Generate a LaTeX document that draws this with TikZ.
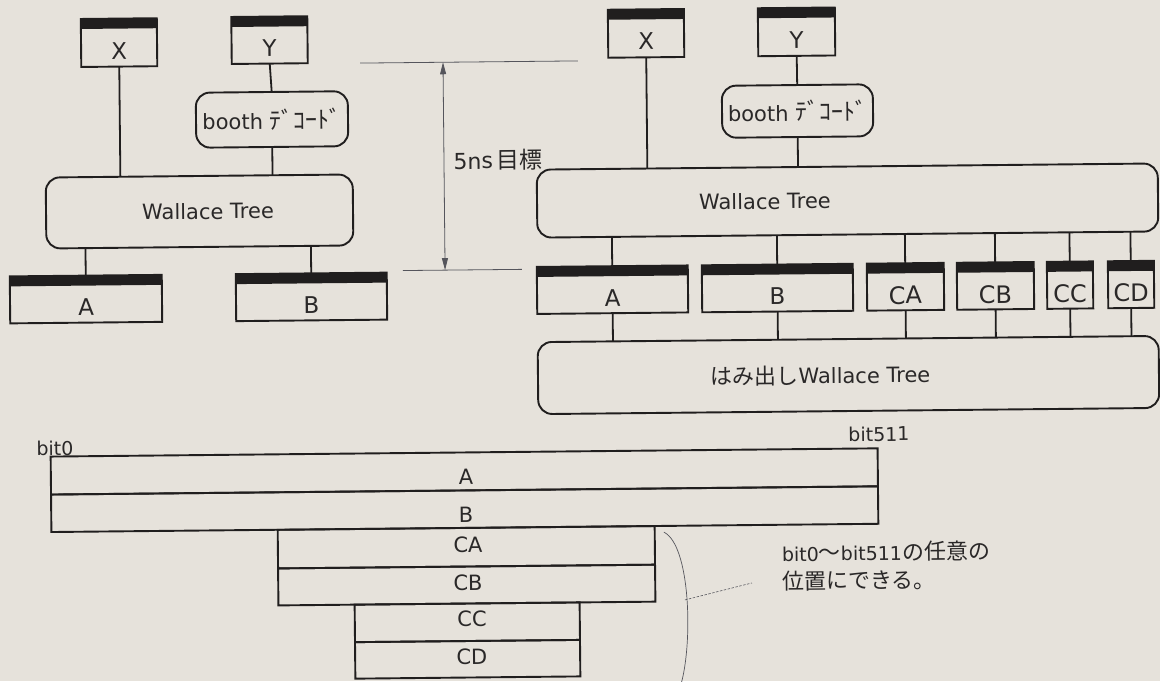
\documentclass[tikz,border=0pt]{standalone}
\usepackage{fontspec}
\setmainfont{DejaVu Sans}
\newfontfamily\jp{Noto Sans CJK JP}
\usetikzlibrary{arrows.meta,calc}
\definecolor{paper}{RGB}{230,226,219}
\definecolor{ink}{RGB}{32,30,30}
\definecolor{txt}{RGB}{42,40,40}
\definecolor{fineink}{RGB}{85,85,92}
\newcommand\jpt[2]{{\jp\fontsize{#1}{#1}\selectfont #2}}
\begin{document}
\begin{tikzpicture}[x=1pt,y=-1pt,
  box/.style={draw=ink, line width=1.9pt, inner sep=0pt, outer sep=0pt},
  reg/.style={box},
  rbox/.style={box, rounded corners=14pt},
  regtext/.style={font=\fontsize{23}{23}\selectfont, text=txt, inner sep=0pt, yshift=-8pt},
  ctext/.style={font=\fontsize{24}{24}\selectfont, text=txt, inner sep=0pt, yshift=-8.5pt},
  walltext/.style={font=\fontsize{21}{21}\selectfont, text=txt, inner sep=0pt},
  rowbox/.style={draw=ink, line width=1.9pt, inner sep=0pt, outer sep=0pt},
  rowtext/.style={font=\fontsize{21}{21}\selectfont, text=txt, inner sep=0pt},
  conn/.style={draw=ink, line width=1.8pt},
  fine/.style={draw=fineink, line width=0.8pt},
  note/.style={text=txt, inner sep=0pt}
]
\path[use as bounding box, fill=paper] (0,0) rectangle (1160,681);
\clip (0,0) rectangle (1160,681);
\begin{scope}[rotate around={0.57:(580,340)}, transform shape]
% ---------- left diagram ----------
\node[reg, minimum width=76pt, minimum height=48pt, label={[regtext]center:X}] (lX) at (122,38) {};
\node[reg, minimum width=76pt, minimum height=47pt, label={[regtext]center:Y}] (lY) at (272.5,37) {};
\node[rbox, minimum width=152pt, minimum height=55pt, font=\fontsize{21}{21}\selectfont, text=txt] (lbooth) at (274.2,116.4) {booth \jpt{24}{ﾃﾞｺｰﾄﾞ}};
\node[rbox, minimum width=307pt, minimum height=71pt, label={[walltext, xshift=8.5pt]center:Wallace Tree}] (lWall) at (200.8,207.7) {};
\node[reg, minimum width=152pt, minimum height=47pt, label={[regtext]center:A}] (lA) at (86.4,294.2) {};
\node[reg, minimum width=151pt, minimum height=47pt, label={[regtext]center:B}] (lB) at (311.9,294.2) {};
\draw[conn] (lX.south) -- (lX.south |- lWall.north);
\draw[conn] (lY.south) -- (lbooth.north);
\draw[conn] (lbooth.south) -- (lbooth.south |- lWall.north);
\draw[conn] (lA.north |- lWall.south) -- (lA.north);
\draw[conn] (lB.north |- lWall.south) -- (lB.north);
% ---------- dimension ----------
\coordinate (dT1) at (362.8,60.9); \coordinate (dT2) at (580.8,60.9);
\coordinate (dB1) at (403.7,268.8); \coordinate (dB2) at (522.7,268.8);
\coordinate (dTa) at (445.8,60.9); \coordinate (dBa) at (445.8,268.8);
\draw[fine] (dT1) -- (dT2);
\draw[fine] (dB1) -- (dB2);
\draw[fine, {Triangle[length=12pt,width=6pt]}-{Triangle[length=12pt,width=6pt]}] (dTa) -- (dBa);
\node[note, font=\fontsize{22}{22}\selectfont] (goal) at (499.8,159.2) {5ns\,\jpt{23}{目標}};
% ---------- right diagram ----------
\node[reg, minimum width=76pt, minimum height=48pt, label={[regtext]center:X}] (rX) at (649.1,34) {};
\node[reg, minimum width=77pt, minimum height=48pt, label={[regtext]center:Y}] (rY) at (799.6,34) {};
\node[rbox, minimum width=151pt, minimum height=52pt, font=\fontsize{21}{21}\selectfont, text=txt] (rbooth) at (799.8,113.2) {booth \jpt{24}{ﾃﾞｺｰﾄﾞ}};
\node[rbox, minimum width=621pt, minimum height=68pt, label={[walltext, xshift=-82.5pt]center:Wallace Tree}] (rWall) at (848.9,203.2) {};
\node[reg, minimum width=151pt, minimum height=47pt, label={[regtext]center:A}] (rA) at (613,290) {};
\node[reg, minimum width=151pt, minimum height=47pt, label={[regtext]center:B}] (rB) at (778,290) {};
\node[reg, minimum width=77pt, minimum height=47pt, label={[ctext]center:CA}] (rCA) at (906,290) {};
\node[reg, minimum width=77pt, minimum height=47pt, label={[ctext]center:CB}] (rCB) at (996,290) {};
\node[reg, minimum width=46pt, minimum height=47pt, label={[ctext]center:CC}] (rCC) at (1070.6,290) {};
\node[reg, minimum width=46pt, minimum height=47pt, label={[ctext]center:CD}] (rCD) at (1131.6,290) {};
\node[rbox, minimum width=621pt, minimum height=72pt, label={[walltext, xshift=-28pt]center:\jpt{22}{はみ出し}Wallace Tree}] (rHam) at (848.1,377.7) {};
\draw[conn] (rX.south) -- (rX.south |- rWall.north);
\draw[conn] (rY.south) -- (rbooth.north);
\draw[conn] (rbooth.south) -- (rbooth.south |- rWall.north);
\foreach \n in {rA,rB,rCA,rCB,rCC,rCD}{
  \draw[conn] (\n.north |- rWall.south) -- (\n.north);
  \draw[conn] (\n.south) -- (\n.south |- rHam.north);
}
% register top bars
\foreach \n in {lX,lY,lA,lB,rX,rY,rA,rB,rCA,rCB,rCC,rCD}{
  \draw[ink, line width=10pt] ($(\n.north west)!5pt!(\n.south west)$) -- ($(\n.north east)!5pt!(\n.south east)$);
}
% ---------- bottom bit layout ----------
\node[rowbox, minimum width=827pt, minimum height=38pt, label={[rowtext, xshift=1.6pt, yshift=-5.6pt]center:A}] (bA) at (463,470.3) {};
\node[rowbox, minimum width=827pt, minimum height=37.5pt, label={[rowtext, xshift=1.3pt, yshift=-5.9pt]center:B}] (bB) at (463,508) {};
\node[rowbox, minimum width=377pt, minimum height=38.6pt, label={[rowtext, xshift=1.7pt, yshift=2.2pt]center:CA}] (bCA) at (464.3,546.1) {};
\node[rowbox, minimum width=377pt, minimum height=37pt, label={[rowtext, xshift=1.3pt, yshift=2pt]center:CB}] (bCB) at (464.3,583.9) {};
\node[rowbox, minimum width=225pt, minimum height=37.5pt, label={[rowtext, xshift=4.7pt, yshift=3.3pt]center:CC}] (bCC) at (464.5,621.15) {};
\node[rowbox, minimum width=225pt, minimum height=36.5pt, label={[rowtext, xshift=4.3pt, yshift=2.3pt]center:CD}] (bCD) at (464.5,658.15) {};
\node[note, font=\fontsize{19}{19}\selectfont] (bit0) at (53.9,442.8) {bit0};
\node[note, font=\fontsize{19}{19}\selectfont] (bit511) at (878,437) {bit511};
\coordinate (br1) at (662,533); \coordinate (br2) at (678,684);
\draw[fine, line width=0.7pt] (br1) .. controls (688,546) and (690,641) .. (br2);
\coordinate (ld1) at (682.4,601); \coordinate (ld2) at (749.6,584.7);
\draw[fine, line width=0.6pt, dash pattern=on 2.5pt off 1.5pt] (ld1) -- (ld2);
\node[note, anchor=west, align=left, font=\fontsize{19}{28}\selectfont] (remark) at (779.7,569) {bit0\jpt{22}{～}bit511\jpt{22}{の任意の}\\\jpt{22}{位置にできる。}};
\end{scope}
\end{tikzpicture}
\end{document}
